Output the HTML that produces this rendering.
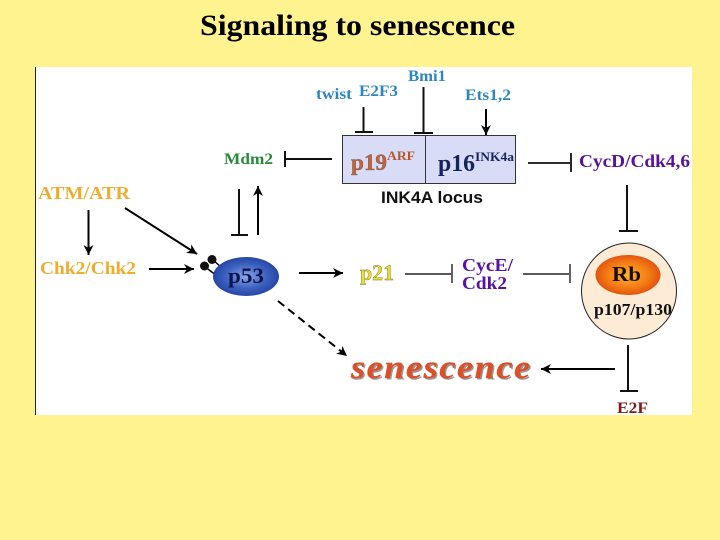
<!DOCTYPE html>
<html><head><meta charset="utf-8">
<style>html,body{margin:0;padding:0;background:#fff38f}svg{display:block}
.s{font-family:"Liberation Serif",serif;font-weight:bold}
.a{font-family:"Liberation Sans",sans-serif;font-weight:bold}
</style></head><body>
<svg width="720" height="540" viewBox="0 0 720 540" xmlns="http://www.w3.org/2000/svg">
<defs>
<radialGradient id="p53" cx="0.5" cy="0.5" r="0.55"><stop offset="0" stop-color="#8fa8e8"/><stop offset="0.55" stop-color="#3f62c0"/><stop offset="1" stop-color="#1e3f9e"/></radialGradient>
<radialGradient id="rb" cx="0.5" cy="0.5" r="0.55"><stop offset="0" stop-color="#fbb52a"/><stop offset="0.6" stop-color="#f47a14"/><stop offset="1" stop-color="#dd4a0c"/></radialGradient>
<marker id="ah" markerUnits="userSpaceOnUse" markerWidth="12" markerHeight="12" refX="10" refY="5" orient="auto"><path d="M0 0L10 5L0 10L3 5Z" fill="#000"/></marker>
</defs>
<rect width="720" height="540" fill="#fff38f"/>
<rect x="36" y="67" width="656" height="348" fill="#fff"/>
<rect x="35" y="67" width="1" height="348" fill="#222"/>
<text class="s" x="200" y="35" font-size="30" textLength="315" lengthAdjust="spacingAndGlyphs" fill="#000">Signaling to senescence</text>

<!-- top labels -->
<g class="s" font-size="16" fill="#2f86bf">
<text x="316" y="99" textLength="36" lengthAdjust="spacingAndGlyphs">twist</text>
<text x="359" y="96" textLength="39" lengthAdjust="spacingAndGlyphs">E2F3</text>
<text x="408" y="81" textLength="38" lengthAdjust="spacingAndGlyphs">Bmi1</text>
<text x="465" y="100" textLength="46" lengthAdjust="spacingAndGlyphs">Ets1,2</text>
</g>
<g stroke="#111" fill="none" stroke-width="2">
<path d="M363.500 107V132M355 132H373"/>
<path d="M423.500 87V133M414 133H433"/>
</g>
<line x1="486" y1="109" x2="486" y2="135" stroke="#000" stroke-width="2" marker-end="url(#ah)"/>

<!-- locus box -->
<rect x="342.500" y="135.500" width="173" height="48" fill="#d9dcf7" stroke="#333" stroke-width="1"/>
<line x1="425.500" y1="135" x2="425.500" y2="184" stroke="#333" stroke-width="1"/>
<text class="s" x="351" y="170" font-size="23" fill="#c4643a" stroke="#444" stroke-width="0.3" textLength="36" lengthAdjust="spacingAndGlyphs">p19</text>
<text class="s" x="387" y="160" font-size="13" fill="#b5562c" textLength="28" lengthAdjust="spacingAndGlyphs">ARF</text>
<text class="s" x="438" y="171" font-size="24" fill="#14245c" textLength="37" lengthAdjust="spacingAndGlyphs">p16</text>
<text class="s" x="475" y="161" font-size="13" fill="#14245c" textLength="39" lengthAdjust="spacingAndGlyphs">INK4a</text>
<text class="a" x="381" y="203" font-size="16.500" fill="#111" textLength="102" lengthAdjust="spacingAndGlyphs">INK4A locus</text>

<!-- Mdm2 -->
<text class="s" x="224" y="164" font-size="16" fill="#2a8a3c" textLength="49" lengthAdjust="spacingAndGlyphs">Mdm2</text>
<g stroke="#111" fill="none" stroke-width="2">
<path d="M285 159H332M285 151V167"/>
<path d="M239 189V235M231 235H248"/>
<path d="M528 163H570M571 153V172" stroke-width="1.800"/>
<path d="M627 185V231M619 231H638"/>
<path d="M628 345V391M620 391H638"/>
</g>
<line x1="258" y1="235" x2="258" y2="186" stroke="#000" stroke-width="2" marker-end="url(#ah)"/>

<!-- left -->
<text class="s" x="38" y="199" font-size="18" fill="#efad2e" textLength="92" lengthAdjust="spacingAndGlyphs">ATM/ATR</text>
<text class="s" x="40" y="274" font-size="18" fill="#efad2e" textLength="96" lengthAdjust="spacingAndGlyphs">Chk2/Chk2</text>
<line x1="88.500" y1="210" x2="88.500" y2="255" stroke="#000" stroke-width="2" marker-end="url(#ah)"/>
<line x1="125" y1="208" x2="197" y2="254" stroke="#000" stroke-width="2" marker-end="url(#ah)"/>
<line x1="149" y1="269" x2="194" y2="269" stroke="#000" stroke-width="2" marker-end="url(#ah)"/>

<!-- p53 -->
<path d="M204 266L217 276M212 259L222 268" stroke="#000" stroke-width="1.500"/>
<circle cx="212" cy="259.500" r="4.500" fill="#111"/>
<circle cx="204.500" cy="266" r="4.500" fill="#111"/>
<ellipse cx="246" cy="276.500" rx="33" ry="19.500" fill="url(#p53)"/>
<text class="s" x="228" y="283" font-size="22" fill="#0b1650" textLength="36" lengthAdjust="spacingAndGlyphs">p53</text>
<line x1="299" y1="273" x2="343" y2="273" stroke="#000" stroke-width="2" marker-end="url(#ah)"/>
<text class="s" x="360" y="280" font-size="22" fill="#e6dc3a" stroke="#77701a" stroke-width="0.4" textLength="34" lengthAdjust="spacingAndGlyphs">p21</text>

<path d="M405 274H451M452 264V283" stroke="#222" fill="none" stroke-width="1.400"/>
<text class="s" x="462" y="271" font-size="18" fill="#57139b" textLength="51" lengthAdjust="spacingAndGlyphs">CycE/</text>
<text class="s" x="462" y="289" font-size="18" fill="#57139b" textLength="45" lengthAdjust="spacingAndGlyphs">Cdk2</text>
<path d="M523 274H569M570 264V283" stroke="#222" fill="none" stroke-width="1.400"/>

<!-- CycD -->
<text class="s" x="579" y="167" font-size="18" fill="#57139b" textLength="111" lengthAdjust="spacingAndGlyphs">CycD/Cdk4,6</text>

<!-- Rb -->
<ellipse cx="629" cy="291" rx="47.500" ry="48" fill="#fdebd6" stroke="#222" stroke-width="1"/>
<ellipse cx="628" cy="275" rx="32.500" ry="20" fill="url(#rb)"/>
<text class="s" x="612" y="281" font-size="21" fill="#1a0d00" textLength="29" lengthAdjust="spacingAndGlyphs">Rb</text>
<text class="s" x="594" y="315" font-size="16.500" fill="#111" textLength="78" lengthAdjust="spacingAndGlyphs">p107/p130</text>
<text class="s" x="617" y="413" font-size="16" fill="#7a1c1c" textLength="31" lengthAdjust="spacingAndGlyphs">E2F</text>
<line x1="615" y1="369" x2="541" y2="369" stroke="#000" stroke-width="2" marker-end="url(#ah)"/>

<!-- senescence -->
<line x1="278" y1="301" x2="347" y2="356" stroke="#000" stroke-width="2" stroke-dasharray="8 5" marker-end="url(#ah)"/>
<text class="s" transform="translate(352.500,379.500) scale(1.1,1)" font-size="33" font-style="italic" letter-spacing="1.4" fill="#999">senescence</text>
<text class="s" transform="translate(351,378) scale(1.1,1)" font-size="33" font-style="italic" letter-spacing="1.4" fill="#d9502a" stroke="#d9502a" stroke-width="0.3">senescence</text>
</svg>
</body></html>
